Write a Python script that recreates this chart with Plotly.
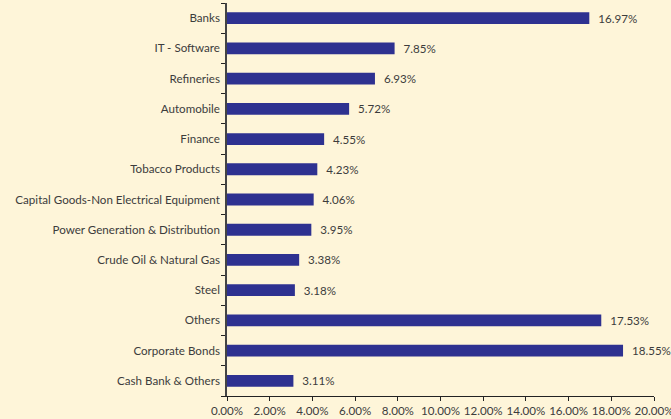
import plotly.graph_objects as go

# Sector allocation (% of net assets)
sectors = [
    "Banks", "IT - Software", "Refineries", "Automobile", "Finance",
    "Tobacco Products", "Capital Goods-Non Electrical Equipment",
    "Power Generation & Distribution", "Crude Oil & Natural Gas", "Steel",
    "Others", "Corporate Bonds", "Cash Bank & Others",
]
weights = [16.97, 7.85, 6.93, 5.72, 4.55, 4.23, 4.06, 3.95, 3.38, 3.18, 17.53, 18.55, 3.11]
x_ticks = [0, 2, 4, 6, 8, 10, 12, 14, 16, 18, 20]
x_tick_labels = ["%.2f%%" % v for v in x_ticks]

BG = "#FEF5D9"
BAR = "#2E3190"
TEXT = "#3C3C3C"
FONT = "Lato, 'Open Sans', sans-serif"
FS = 11.6

fig = go.Figure(
    go.Bar(
        x=weights,
        y=sectors,
        orientation="h",
        marker=dict(color=BAR, line=dict(width=0)),
        width=0.39,
        text=["  %.2f%%" % w for w in weights],
        textposition="outside",
        constraintext="none",
        textfont=dict(family=FONT, size=FS, color=TEXT),
        cliponaxis=False,
    )
)

fig.update_layout(
    width=671,
    height=419,
    margin=dict(l=227, r=17, t=3, b=23),
    paper_bgcolor=BG,
    plot_bgcolor=BG,
    font=dict(family=FONT, size=FS, color=TEXT),
    showlegend=False,
)

fig.update_xaxes(
    range=[0, 20],
    tickvals=x_ticks,
    ticktext=x_tick_labels,
    ticklabeloverflow="allow",
    automargin=False,
    showgrid=False,
    zeroline=False,
    showline=True,
    linecolor="#222222",
    linewidth=1,
    ticks="outside",
    ticklen=4,
    tickcolor="#222222",
    tickfont=dict(family=FONT, size=FS, color=TEXT),
)

fig.update_yaxes(
    categoryorder="array",
    categoryarray=sectors[::-1],
    range=[-0.5, len(sectors) - 0.5],
    automargin=False,
    showgrid=False,
    zeroline=False,
    showline=True,
    linecolor="#444444",
    linewidth=1.5,
    ticks="outside",
    tickson="boundaries",
    ticklen=4,
    ticklabelstandoff=3,
    tickcolor="#222222",
    tickfont=dict(family=FONT, size=FS, color=TEXT),
)

fig.write_html("out.html")
